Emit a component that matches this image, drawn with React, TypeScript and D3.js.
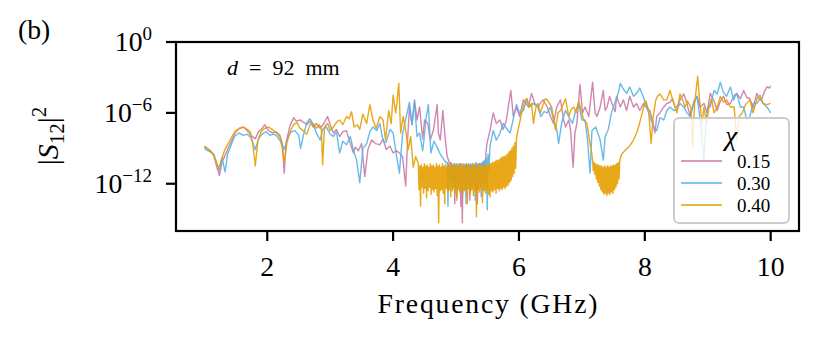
import { useEffect, useRef } from 'react';
import * as d3 from 'd3';

// [frequency in GHz, log10 of |S12|^2]
type Pt = [number, number];

const xTicks = [2, 4, 6, 8, 10];
const yTickExps = ['0', '\u22126', '\u221212'];
const yTickVals = [1, 1e-6, 1e-12];
const chiLabels = ['0.15', '0.30', '0.40'];
const lineColors = ['#cc79a7', '#56b4e9', '#e69f00'];

// chi = 0.15
const pinkLow: Pt[] = [
  [1.00, -8.9], [1.05, -9.0], [1.10, -9.3], [1.15, -9.6], [1.20, -10.6], [1.24, -11.3], [1.28, -10.2], [1.33, -9.6],
  [1.38, -9.0], [1.44, -8.3], [1.50, -7.6], [1.56, -7.3], [1.62, -7.2], [1.68, -7.5], [1.74, -7.9], [1.81, -8.2],
  [1.86, -7.6], [1.92, -7.3], [1.96, -7.0], [2.02, -7.5], [2.08, -7.7], [2.14, -7.6], [2.20, -7.9], [2.24, -8.6],
  [2.27, -11.1], [2.30, -8.5], [2.36, -7.1], [2.42, -6.4], [2.46, -6.7], [2.52, -6.6], [2.58, -6.8], [2.63, -7.0],
  [2.68, -6.7], [2.73, -7.2], [2.78, -6.9], [2.84, -7.3], [2.90, -6.9], [2.96, -6.3], [3.00, -7.0], [3.05, -7.7],
  [3.10, -7.4], [3.15, -8.0], [3.20, -7.6], [3.26, -7.5], [3.30, -8.3], [3.37, -9.4], [3.40, -8.9], [3.45, -9.2],
  [3.50, -8.6], [3.55, -11.4], [3.60, -9.1], [3.66, -8.3], [3.72, -8.6], [3.79, -8.7], [3.84, -8.2], [3.89, -9.1],
  [3.95, -8.8], [4.00, -9.4], [4.05, -9.2], [4.10, -9.4], [4.15, -9.7], [4.20, -12.2], [4.23, -8.3], [4.26, -5.5],
  [4.30, -7.0], [4.34, -4.9], [4.38, -6.6], [4.42, -5.5], [4.47, -8.2], [4.50, -6.6], [4.55, -6.9], [4.59, -8.3],
  [4.64, -7.5], [4.70, -5.3], [4.72, -7.7], [4.75, -8.3], [4.79, -5.8], [4.83, -8.3], [4.86, -9.7], [4.90, -10.3],
];
const pinkFloorStart = 4.92;
const pinkFloorStep = 0.012;
const pinkFloor = [
  -10.2, -11.6, -10.4, -12.1, -10.3, -13.7, -10.5, -11.8, -10.3, -12.4, -10.4, -11.9,
  -10.5, -13.9, -10.3, -15.3, -10.4, -12.2, -10.5, -11.9, -10.3, -12.5, -10.4, -12.0,
  -10.5, -13.4, -10.3, -11.8, -10.4, -12.3, -10.5, -12.0, -10.3, -12.6, -10.4, -13.7,
  -10.5, -11.9, -10.3, -12.2, -10.4, -11.8, -10.2, -12.1, -10.1, -11.5, -9.6,
];
const pinkHigh: Pt[] = [
  [5.49, -8.6], [5.54, -7.5], [5.59, -6.0], [5.64, -6.9], [5.70, -6.6], [5.75, -7.4], [5.80, -6.6], [5.87, -4.1],
  [5.91, -6.3], [5.96, -5.5], [6.01, -6.3], [6.07, -4.9], [6.15, -5.5], [6.20, -4.35], [6.25, -5.2], [6.30, -5.5],
  [6.38, -4.9], [6.45, -5.5], [6.50, -6.3], [6.55, -6.9], [6.60, -5.5], [6.66, -4.9], [6.71, -6.6], [6.74, -7.2],
  [6.79, -6.6], [6.82, -7.45], [6.86, -10.6], [6.89, -7.7], [6.92, -6.9], [6.97, -3.6], [7.01, -6.0], [7.05, -5.5],
  [7.11, -6.3], [7.17, -3.4], [7.21, -6.0], [7.24, -6.3], [7.29, -5.5], [7.34, -4.1], [7.37, -5.8], [7.40, -5.5],
  [7.44, -4.6], [7.47, -5.1], [7.53, -5.9], [7.55, -4.6], [7.61, -5.5], [7.66, -4.9], [7.71, -5.8], [7.76, -4.6],
  [7.82, -5.5], [7.87, -5.2], [7.92, -5.8], [7.98, -5.2], [8.03, -5.6], [8.08, -5.8], [8.12, -6.6], [8.16, -7.7],
  [8.19, -6.3], [8.24, -6.0], [8.30, -5.5], [8.35, -5.2], [8.40, -5.1], [8.44, -4.8], [8.48, -5.5], [8.51, -5.5],
  [8.56, -4.9], [8.62, -4.4], [8.67, -5.2], [8.72, -6.3], [8.78, -5.0], [8.83, -4.6], [8.88, -5.5], [8.94, -5.2],
  [8.99, -6.0], [9.04, -4.35], [9.10, -5.0], [9.15, -5.8], [9.20, -5.0], [9.25, -4.6], [9.30, -5.3], [9.36, -5.2],
  [9.41, -4.6], [9.46, -4.35], [9.52, -4.8], [9.57, -4.1], [9.62, -4.7], [9.67, -4.8], [9.72, -5.6], [9.78, -4.35],
  [9.83, -4.9], [9.86, -4.8], [9.90, -4.2], [9.94, -3.8], [9.98, -3.9], [10.0, -3.7],
];

// chi = 0.30
const blueLow: Pt[] = [
  [1.00, -9.0], [1.05, -9.2], [1.10, -9.3], [1.15, -9.5], [1.20, -10.3], [1.24, -10.9], [1.28, -9.8], [1.33, -11.0],
  [1.37, -9.5], [1.42, -8.8], [1.48, -8.0], [1.55, -7.7], [1.62, -7.9], [1.68, -7.8], [1.74, -8.1], [1.81, -9.1],
  [1.86, -8.2], [1.92, -7.8], [1.98, -7.6], [2.04, -7.9], [2.10, -7.8], [2.16, -8.0], [2.22, -8.5], [2.27, -9.1],
  [2.32, -8.2], [2.38, -7.6], [2.44, -7.5], [2.50, -7.9], [2.53, -9.0], [2.57, -8.0], [2.63, -6.8], [2.68, -6.5],
  [2.73, -7.0], [2.79, -7.8], [2.84, -8.3], [2.88, -7.4], [2.94, -7.2], [3.00, -7.8], [3.05, -8.0], [3.10, -7.6],
  [3.15, -9.4], [3.20, -8.4], [3.26, -8.7], [3.32, -8.0], [3.37, -9.2], [3.42, -10.0], [3.47, -11.9], [3.52, -9.0],
  [3.58, -8.6], [3.63, -7.6], [3.68, -7.2], [3.74, -7.5], [3.79, -6.9], [3.84, -8.4], [3.89, -8.5], [3.95, -7.4],
  [4.00, -7.7], [4.05, -9.5], [4.10, -11.1], [4.15, -7.8], [4.21, -6.3], [4.26, -5.1], [4.30, -7.0], [4.34, -5.1],
  [4.38, -8.0], [4.42, -7.7], [4.47, -9.2], [4.49, -8.3], [4.52, -6.6], [4.56, -5.3], [4.60, -9.4], [4.65, -8.4],
  [4.70, -8.9], [4.75, -9.5], [4.80, -9.9], [4.84, -10.2],
];
const blueFloorStart = 4.86;
const blueFloorStep = 0.012;
const blueFloor = [
  -10.2, -13.9, -10.3, -11.7, -10.4, -12.3, -10.3, -11.9, -10.5, -12.4, -10.3, -11.8,
  -10.4, -13.1, -10.5, -12.2, -10.3, -11.9, -10.4, -12.5, -10.5, -12.0, -10.3, -12.3,
  -10.4, -13.7, -10.5, -11.8, -10.3, -12.1, -10.4, -12.6, -10.5, -11.9, -10.3, -12.2,
  -10.4, -13.4, -10.2, -12.0, -10.3, -12.4, -10.4, -11.8, -10.3, -13.1, -10.2, -12.2,
  -10.1, -12.5, -10.0, -12.0, -9.8, -14.2, -9.5, -11.0,
];
const blueHigh: Pt[] = [
  [5.54, -8.8], [5.59, -7.5], [5.64, -8.3], [5.70, -7.7], [5.75, -6.9], [5.80, -7.3], [5.86, -7.7], [5.91, -6.5],
  [5.96, -5.3], [6.01, -6.0], [6.07, -5.8], [6.12, -4.9], [6.17, -5.5], [6.22, -5.2], [6.30, -5.5], [6.35, -6.3],
  [6.40, -5.9], [6.45, -6.0], [6.50, -5.5], [6.55, -6.6], [6.60, -7.4], [6.63, -8.6], [6.68, -6.8], [6.74, -5.8],
  [6.80, -6.4], [6.85, -6.9], [6.90, -5.8], [6.95, -5.2], [7.00, -6.6], [7.05, -6.6], [7.09, -8.3], [7.13, -11.1],
  [7.16, -7.5], [7.22, -7.2], [7.29, -8.3], [7.34, -10.0], [7.37, -8.0], [7.42, -7.4], [7.47, -6.0], [7.52, -5.2],
  [7.58, -4.3], [7.61, -3.5], [7.66, -4.0], [7.71, -4.35], [7.76, -3.8], [7.82, -4.6], [7.87, -4.35], [7.92, -3.9],
  [7.98, -4.7], [8.03, -5.5], [8.08, -6.3], [8.14, -7.2], [8.19, -7.5], [8.24, -6.4], [8.30, -6.6], [8.35, -5.8],
  [8.40, -5.5], [8.46, -5.8], [8.51, -5.7], [8.56, -5.2], [8.62, -5.5], [8.67, -6.0], [8.72, -6.3], [8.78, -5.2],
  [8.83, -4.6], [8.88, -6.6], [8.94, -10.0], [8.97, -7.0], [9.00, -5.5], [9.04, -5.5], [9.10, -4.1], [9.15, -4.4],
  [9.20, -3.4], [9.25, -4.3], [9.30, -4.6], [9.36, -3.8], [9.41, -4.9], [9.46, -4.35], [9.52, -5.5], [9.57, -5.5],
  [9.62, -6.6], [9.67, -6.3], [9.72, -5.2], [9.78, -5.2], [9.83, -4.8], [9.88, -5.2], [9.94, -5.5], [10.0, -6.0],
];

// chi = 0.40
const orangeLow: Pt[] = [
  [1.00, -8.8], [1.05, -9.0], [1.10, -9.2], [1.15, -9.6], [1.20, -10.3], [1.23, -10.7], [1.27, -10.0], [1.32, -9.2],
  [1.38, -8.6], [1.44, -8.0], [1.50, -7.5], [1.56, -7.3], [1.62, -7.2], [1.68, -7.4], [1.73, -7.6], [1.77, -8.6],
  [1.81, -10.5], [1.85, -8.4], [1.90, -7.6], [1.96, -7.3], [2.02, -7.2], [2.08, -7.4], [2.14, -7.7], [2.20, -8.0],
  [2.24, -9.0], [2.27, -10.2], [2.31, -8.6], [2.36, -7.6], [2.42, -7.0], [2.47, -6.8], [2.52, -7.3], [2.57, -7.5],
  [2.63, -7.8], [2.68, -7.0], [2.73, -6.9], [2.78, -7.3], [2.83, -7.0], [2.86, -7.4], [2.88, -10.4], [2.91, -7.2],
  [2.96, -6.9], [3.00, -7.5], [3.05, -7.2], [3.10, -6.8], [3.15, -6.6], [3.20, -7.0], [3.26, -6.3], [3.30, -6.5],
  [3.34, -5.9], [3.38, -7.2], [3.43, -7.0], [3.47, -7.4], [3.52, -6.1], [3.58, -6.9], [3.63, -5.3], [3.68, -6.6],
  [3.73, -7.3], [3.79, -6.3], [3.84, -6.6], [3.88, -8.3], [3.93, -5.8], [3.97, -6.9], [4.00, -4.5], [4.04, -6.0],
  [4.06, -5.2], [4.09, -3.5], [4.12, -7.7], [4.16, -6.3], [4.20, -7.5], [4.24, -9.1], [4.28, -8.0], [4.32, -10.6],
  [4.36, -9.7],
];
const orangeFloorStart = 4.40;
const orangeFloorStep = 0.012;
const orangeFloor = [
  -10.3, -12.5, -10.5, -13.9, -10.4, -12.3, -10.6, -12.8, -10.3, -12.4, -10.5, -13.2,
  -10.4, -12.6, -10.6, -12.3, -10.3, -12.9, -10.5, -12.5, -10.4, -12.7, -10.6, -12.4,
  -10.3, -13.0, -10.5, -15.3, -10.4, -12.6, -10.6, -12.5, -10.3, -12.8, -10.5, -13.7,
  -10.4, -12.4, -10.6, -12.7, -10.3, -12.5, -10.5, -13.1, -10.4, -12.6, -10.6, -12.3,
  -10.3, -12.8, -10.5, -13.4, -10.4, -12.5, -10.6, -12.7, -10.3, -12.4, -10.5, -12.9,
  -10.4, -12.6, -10.6, -12.5, -10.3, -13.7, -10.5, -12.4, -10.4, -12.8, -10.6, -12.5,
  -10.3, -13.0, -10.5, -12.6, -10.4, -14.8, -10.6, -12.5, -10.3, -12.7, -10.5, -12.4,
  -10.4, -13.6, -10.6, -12.6, -10.3, -12.8, -10.5, -12.5, -10.4, -12.9, -10.3, -13.1,
  -10.3, -12.6, -10.2, -12.7, -10.2, -12.5, -10.1, -12.8, -10.0, -12.4, -10.0, -12.6,
  -9.9, -12.4, -9.8, -12.5, -9.7, -12.3, -9.7, -12.4, -9.6, -12.2, -9.5, -12.1,
  -9.3, -11.9, -9.2, -11.7, -9.0, -11.4, -8.8, -11.1, -8.5, -10.7, -8.2, -7.8,
];
const orangeMid: Pt[] = [
  [6.02, -6.6], [6.06, -5.6], [6.10, -4.9], [6.13, -4.8], [6.16, -5.5], [6.20, -5.2], [6.23, -6.9], [6.27, -5.5],
  [6.30, -5.2], [6.34, -6.0], [6.37, -5.5], [6.42, -4.8], [6.45, -4.9], [6.52, -5.5], [6.58, -7.45], [6.62, -6.0],
  [6.66, -5.8], [6.74, -4.8], [6.79, -6.3], [6.83, -5.7], [6.87, -5.5], [6.91, -6.0], [6.95, -5.0], [7.00, -6.0],
  [7.03, -6.6], [7.08, -6.9], [7.12, -8.3], [7.15, -9.2],
];
const orangeDipStart = 7.17;
const orangeDipStep = 0.012;
const orangeDip = [
  -10.0, -10.9, -10.2, -11.2, -10.3, -11.6, -10.4, -11.9, -10.4, -12.2, -10.5, -12.5,
  -10.5, -12.7, -10.6, -12.9, -10.5, -12.8, -10.6, -13.0, -10.5, -12.8, -10.6, -12.9,
  -10.5, -12.7, -10.5, -12.8, -10.4, -12.5, -10.4, -12.3, -10.3, -12.0, -10.2, -11.6,
  -10.0,
];
const orangeHigh: Pt[] = [
  [7.63, -9.5], [7.70, -9.1], [7.76, -8.8], [7.82, -8.3], [7.87, -7.7], [7.91, -7.0], [7.95, -6.2], [7.99, -5.3],
  [8.02, -5.0], [8.06, -5.8], [8.10, -8.6], [8.13, -6.5], [8.17, -5.0], [8.20, -4.6], [8.24, -4.4], [8.30, -4.9],
  [8.35, -4.9], [8.40, -4.1], [8.46, -5.2], [8.51, -6.0], [8.56, -4.4], [8.60, -4.9], [8.64, -5.5], [8.68, -5.0],
  [8.73, -5.5], [8.76, -8.9], [8.79, -5.3], [8.84, -2.9], [8.87, -4.9], [8.91, -6.9], [8.94, -5.5], [8.98, -6.9],
  [9.02, -5.5], [9.06, -4.8], [9.10, -6.0], [9.15, -5.5], [9.20, -4.6], [9.25, -5.1], [9.30, -4.9], [9.36, -5.5],
  [9.42, -5.5], [9.46, -8.3], [9.50, -6.3], [9.55, -6.0], [9.60, -5.3], [9.67, -4.9], [9.72, -6.0], [9.78, -4.8],
  [9.83, -4.5], [9.88, -5.2], [9.94, -5.3], [10.0, -5.2],
];

const sweep = (start: number, step: number, vals: number[]): Pt[] =>
  vals.map((v, i) => [start + i * step, v] as Pt);

const FONT = "'Liberation Serif', 'DejaVu Serif', serif";

export default function App() {
  const svgRef = useRef<SVGSVGElement | null>(null);

  useEffect(() => {
    if (!svgRef.current) return;
    const W = 830;
    const H = 356;
    const MARGIN = { top: 42, right: 31, bottom: 125, left: 176 };
    const FS = 27.7;

    const svg = d3.select(svgRef.current);
    svg.selectAll('*').remove();

    const x = d3.scaleLinear().domain([0.55, 10.45]).range([MARGIN.left, W - MARGIN.right]);
    const y = d3.scaleLog().domain([1e-16, 1]).range([H - MARGIN.bottom, MARGIN.top]);

    const series = [
      [...pinkLow, ...sweep(pinkFloorStart, pinkFloorStep, pinkFloor), ...pinkHigh],
      [...blueLow, ...sweep(blueFloorStart, blueFloorStep, blueFloor), ...blueHigh],
      [
        ...orangeLow,
        ...sweep(orangeFloorStart, orangeFloorStep, orangeFloor),
        ...orangeMid,
        ...sweep(orangeDipStart, orangeDipStep, orangeDip),
        ...orangeHigh,
      ],
    ];

    svg.append('defs').append('clipPath').attr('id', 'plot-clip')
      .append('rect')
      .attr('x', MARGIN.left).attr('y', MARGIN.top)
      .attr('width', W - MARGIN.left - MARGIN.right)
      .attr('height', H - MARGIN.top - MARGIN.bottom);

    const line = d3.line<Pt>()
      .x(d => x(d[0]))
      .y(d => y(Math.pow(10, d[1])));

    const plot = svg.append('g').attr('clip-path', 'url(#plot-clip)');
    series.forEach((pts, i) => {
      plot.append('path')
        .datum(pts.slice().sort((a, b) => a[0] - b[0]))
        .attr('d', line)
        .attr('fill', 'none')
        .attr('stroke', lineColors[i])
        .attr('stroke-opacity', 0.9)
        .attr('stroke-width', 1.4)
        .attr('stroke-linejoin', 'round');
    });

    // annotation
    const ann = svg.append('text')
      .attr('x', 227).attr('y', 75)
      .attr('font-family', FONT).attr('font-size', 22);
    ann.append('tspan').attr('font-style', 'italic').text('d');
    ann.append('tspan').text('\u2002=\u200292\u2002mm');

    // legend
    const lg = svg.append('g');
    lg.append('rect')
      .attr('x', 674).attr('y', 118).attr('width', 115).attr('height', 105)
      .attr('rx', 5)
      .attr('fill', 'white').attr('fill-opacity', 0.8)
      .attr('stroke', '#cccccc').attr('stroke-width', 2);
    lg.append('text')
      .attr('x', 731).attr('y', 145)
      .attr('text-anchor', 'middle')
      .attr('font-family', FONT).attr('font-size', FS).attr('font-style', 'italic')
      .text('\u03c7');
    chiLabels.forEach((lab, i) => {
      const ly = 161 + i * 22;
      lg.append('line')
        .attr('x1', 681).attr('x2', 722).attr('y1', ly).attr('y2', ly)
        .attr('stroke', lineColors[i]).attr('stroke-width', 1.4);
      lg.append('text')
        .attr('x', 737).attr('y', ly + 6.5)
        .attr('font-family', FONT).attr('font-size', 19)
        .text(lab);
    });

    // frame
    svg.append('rect')
      .attr('x', MARGIN.left).attr('y', MARGIN.top)
      .attr('width', W - MARGIN.left - MARGIN.right)
      .attr('height', H - MARGIN.top - MARGIN.bottom)
      .attr('fill', 'none').attr('stroke', '#000').attr('stroke-width', 2.2);

    // x axis
    const xb = H - MARGIN.bottom;
    const xg = svg.append('g');
    xTicks.forEach(t => {
      xg.append('line')
        .attr('x1', x(t)).attr('x2', x(t)).attr('y1', xb).attr('y2', xb + 10)
        .attr('stroke', '#000').attr('stroke-width', 2.2);
      xg.append('text')
        .attr('x', x(t)).attr('y', 276)
        .attr('text-anchor', 'middle')
        .attr('font-family', FONT).attr('font-size', FS)
        .text(String(t));
    });
    svg.append('text')
      .attr('x', (MARGIN.left + W - MARGIN.right) / 2).attr('y', 313)
      .attr('text-anchor', 'middle')
      .attr('font-family', FONT).attr('font-size', FS)
      .attr('textLength', 220).attr('lengthAdjust', 'spacing')
      .text('Frequency (GHz)');

    // y axis
    const yg = svg.append('g');
    yTickVals.forEach((v, i) => {
      const ty = y(v);
      yg.append('line')
        .attr('x1', MARGIN.left - 10).attr('x2', MARGIN.left).attr('y1', ty).attr('y2', ty)
        .attr('stroke', '#000').attr('stroke-width', 2.2);
      const t = yg.append('text')
        .attr('x', 152).attr('y', ty + 9)
        .attr('text-anchor', 'end')
        .attr('font-family', FONT).attr('font-size', FS);
      t.append('tspan').text('10');
      t.append('tspan').attr('font-size', 19).attr('dy', -11).text(yTickExps[i]);
    });

    const yl = svg.append('text')
      .attr('transform', 'translate(58,136) rotate(-90)')
      .attr('text-anchor', 'middle')
      .attr('font-family', FONT).attr('font-size', 30);
    yl.append('tspan').text('|');
    yl.append('tspan').attr('font-style', 'italic').text('S');
    yl.append('tspan').attr('font-size', 21).attr('dy', 6).text('12');
    yl.append('tspan').attr('dy', -6).text('|');
    yl.append('tspan').attr('font-size', 21).attr('dy', -12).text('2');

    svg.append('text')
      .attr('x', 18).attr('y', 39)
      .attr('font-family', FONT).attr('font-size', FS)
      .text('(b)');
  }, []);

  return (
    <>
      <style>{'body{margin:0}'}</style>
      <svg ref={svgRef} width={830} height={356} style={{ display: 'block', background: 'white' }} />
    </>
  );
}
